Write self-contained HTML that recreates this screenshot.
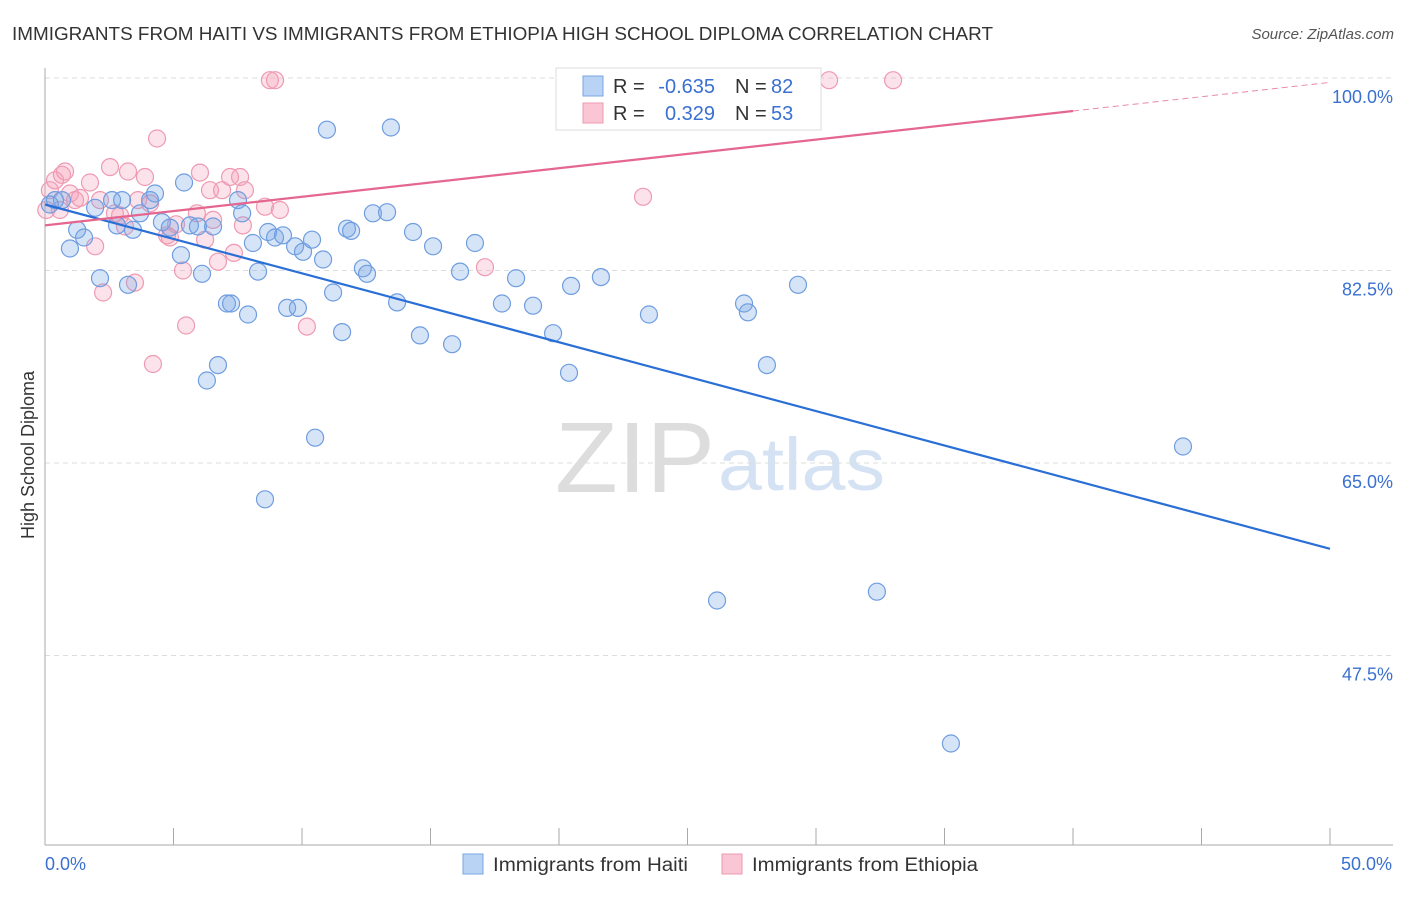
<!DOCTYPE html>
<html><head><meta charset="utf-8"><style>
body{margin:0;background:#fff;font-family:"Liberation Sans",sans-serif}
svg text{font-family:"Liberation Sans",sans-serif}
</style></head><body>
<svg id="c" width="1406" height="892">
<text x="12" y="40" font-size="18.5" fill="#333" textLength="981" lengthAdjust="spacingAndGlyphs">IMMIGRANTS FROM HAITI VS IMMIGRANTS FROM ETHIOPIA HIGH SCHOOL DIPLOMA CORRELATION CHART</text>
<text x="1394" y="39" font-size="15" fill="#555" font-style="italic" text-anchor="end">Source: ZipAtlas.com</text>
<text x="34" y="455" font-size="18" fill="#333" transform="rotate(-90 34 455)" text-anchor="middle">High School Diploma</text>
<text x="635" y="492" font-size="100" fill="#ddd" text-anchor="middle" font-family="Liberation Serif" textLength="160" lengthAdjust="spacingAndGlyphs">ZIP</text>
<text x="718" y="490" font-size="74" fill="#d4e2f4" textLength="167" lengthAdjust="spacingAndGlyphs">atlas</text>
<g id="grid"></g><g id="pts"></g><g id="lines"></g>
<g font-size="20">
<rect x="556" y="68" width="265" height="62" fill="#fff" stroke="#ddd"/>
<rect x="583" y="76" width="20" height="20" fill="#b9d3f5" stroke="#7aa6e3"/>
<rect x="583" y="103" width="20" height="20" fill="#fac5d4" stroke="#ee9ab2"/>
<text x="613" y="93" fill="#333">R =</text>
<text x="715" y="93" fill="#3a70d0" text-anchor="end">-0.635</text>
<text x="735" y="93" fill="#333">N =</text>
<text x="771" y="93" fill="#3a70d0">82</text>
<text x="613" y="120" fill="#333">R =</text>
<text x="715" y="120" fill="#3a70d0" text-anchor="end">0.329</text>
<text x="735" y="120" fill="#333">N =</text>
<text x="771" y="120" fill="#3a70d0">53</text>
</g>
<g>
<rect x="463" y="854" width="20" height="20" fill="#b9d3f5" stroke="#7aa6e3"/>
<text x="493" y="871" font-size="19" fill="#333" textLength="195" lengthAdjust="spacingAndGlyphs">Immigrants from Haiti</text>
<rect x="722" y="854" width="20" height="20" fill="#fac5d4" stroke="#ee9ab2"/>
<text x="752" y="871" font-size="19" fill="#333" textLength="226" lengthAdjust="spacingAndGlyphs">Immigrants from Ethiopia</text>
</g>
</svg>
<script>
const yTicks=[100,82.5,65,47.5];
const yTickLabels=["100.0%","82.5%","65.0%","47.5%"];
const xTickLabels=["0.0%","50.0%"];
const haitiX=[0.39,0.66,0.19,0.97,1.25,1.52,1.95,2.14,2.61,2.80,3.00,3.23,3.42,3.70,4.09,4.28,4.55,4.86,5.29,5.41,5.64,5.95,6.11,6.30,6.54,6.73,7.08,7.24,7.51,7.67,7.90,8.09,8.29,8.56,8.68,8.95,9.26,9.42,9.73,9.84,10.04,10.39,10.51,10.82,10.97,11.21,11.56,11.75,11.91,12.37,12.53,12.76,13.31,13.46,13.70,14.32,14.59,15.10,15.84,16.15,16.73,17.78,18.33,18.99,19.77,20.39,20.47,21.63,23.50,26.15,27.20,27.35,28.09,29.30,32.37,35.25,44.28];
const haitiY=[88.9,88.9,88.5,84.5,86.2,85.5,88.2,81.8,88.9,86.6,88.9,81.2,86.2,87.7,88.9,89.5,86.9,86.4,83.9,90.5,86.6,86.5,82.2,72.5,86.5,73.9,79.5,79.5,88.9,87.7,78.5,85.0,82.4,61.7,86.0,85.5,85.7,79.1,84.7,79.1,84.2,85.3,67.3,83.5,95.3,80.5,76.9,86.3,86.1,82.7,82.2,87.7,87.8,95.5,79.6,86.0,76.6,84.7,75.8,82.4,85.0,79.5,81.8,79.3,76.8,73.2,81.1,81.9,78.5,52.5,79.5,78.7,73.9,81.2,53.3,39.5,66.5];
const ethX=[0.19,0.39,0.66,0.78,0.97,1.17,1.36,1.75,1.95,2.14,2.26,2.53,2.72,2.92,3.11,3.23,3.50,3.62,3.89,4.09,4.20,4.36,4.75,4.86,5.10,5.37,5.49,5.91,6.03,6.23,6.42,6.54,6.73,6.89,7.20,7.35,7.59,7.70,7.78,8.56,8.75,8.95,9.14,10.19,17.12,23.27,30.51,33.00,0.05,0.58];
const ethY=[89.8,90.7,91.2,91.5,89.5,88.9,89.1,90.5,84.7,88.9,80.5,91.9,87.7,87.5,86.5,91.5,81.4,88.9,91.0,88.6,74.0,94.5,85.7,85.5,86.7,82.5,77.5,87.7,91.4,85.3,89.8,87.1,83.3,89.8,91.0,84.1,91.0,86.6,89.8,88.3,99.8,99.8,88.0,77.4,82.8,89.2,99.8,99.8,88.0,88.0];
const haitiTrend=[88.5,57.2];
const ethTrend=[86.6,99.6];
const X=v=>45+v*25.7, Y=v=>78+(100-v)*11;
const NS="http://www.w3.org/2000/svg";
function mk(t,a,p){const e=document.createElementNS(NS,t);for(const k in a)e.setAttribute(k,a[k]);p.appendChild(e);return e;}
const g=document.getElementById('grid');
yTicks.forEach((t,i)=>{
 const l=mk('line',{x1:45,x2:1393,y1:Y(t),y2:Y(t),stroke:'#ddd','stroke-dasharray':'5,4'},g);
 
 
 const tx=mk('text',{x:1393,y:Y(t)+25,'font-size':18,fill:'#3a70d0','text-anchor':'end'},g);
 tx.textContent=yTickLabels[i];
 
 
});
mk('line',{x1:45,x2:45,y1:68,y2:845,stroke:'#aaa'},g);
mk('line',{x1:45,x2:1393,y1:845,y2:845,stroke:'#aaa'},g);
for(let i=0;i<=10;i++){const t=mk('line',{x1:X(i*5),x2:X(i*5),y1:828,y2:845,stroke:'#aaa'},g);
 
 }
[[0,'start'],[50,'end']].forEach((p,i)=>{const t=mk('text',{x:X(p[0])+(i?62:0),y:870,'font-size':18,fill:'#3a70d0','text-anchor':i?'end':'start'},g);t.textContent=xTickLabels[i];
 
 });
const pg=document.getElementById('pts');
ethX.forEach((x,i)=>{const c=mk('circle',{cx:X(x),cy:Y(ethY[i]),r:8.5,fill:'rgba(245,160,185,0.3)',stroke:'#ee9ab2','stroke-width':1.2},pg);
 
 });
haitiX.forEach((x,i)=>{const c=mk('circle',{cx:X(x),cy:Y(haitiY[i]),r:8.5,fill:'rgba(120,165,230,0.3)',stroke:'#6f9de0','stroke-width':1.2},pg);
 
 });
const lg=document.getElementById('lines');
const hl=mk('line',{x1:X(0),y1:Y(haitiTrend[0]),x2:X(50),y2:Y(haitiTrend[1]),stroke:'#2a6fd6','stroke-width':2.2},lg);


const e40=ethTrend[0]+(ethTrend[1]-ethTrend[0])*0.8;
const el1=mk('line',{x1:X(0),y1:Y(ethTrend[0]),x2:X(40),y2:Y(e40),stroke:'#e5668f','stroke-width':2.2},lg);


const el2=mk('line',{x1:X(40),y1:Y(e40),x2:X(50),y2:Y(ethTrend[1]),stroke:'#e88aa5','stroke-width':1,'stroke-dasharray':'6,4'},lg);


</script>
</body></html>
